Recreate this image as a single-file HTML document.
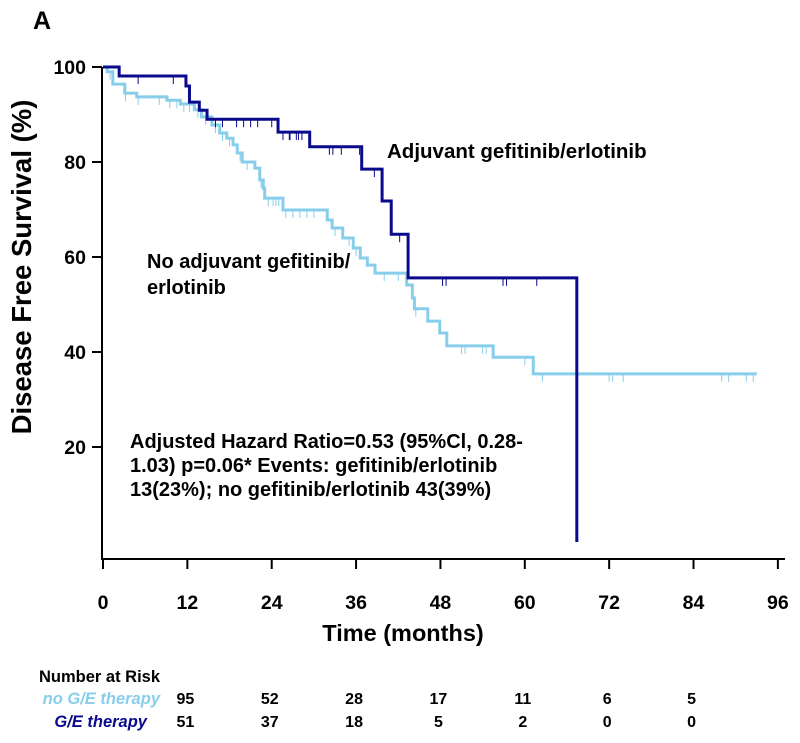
<!DOCTYPE html>
<html><head><meta charset="utf-8"><style>
body{margin:0;background:#fff;}
svg{display:block;font-family:"Liberation Sans",Arial,sans-serif;font-weight:bold;}
</style></head><body>
<svg id="chart" width="800" height="743" viewBox="0 0 800 743" xmlns="http://www.w3.org/2000/svg">
<text x="33" y="29" font-size="25">A</text>
<text transform="translate(31,267) rotate(-90)" text-anchor="middle" font-size="27.5">Disease Free Survival (%)</text>
<text x="403" y="641" text-anchor="middle" font-size="23.5">Time (months)</text>
<text x="387" y="158" font-size="20.5">Adjuvant gefitinib/erlotinib</text>
<text x="147" y="268" font-size="20">No adjuvant gefitinib/</text>
<text x="147" y="294" font-size="20">erlotinib</text>
<text font-size="20"><tspan x="130" y="448">Adjusted Hazard Ratio=0.53 (95%Cl, 0.28-</tspan><tspan x="130" y="472">1.03) p=0.06* Events: gefitinib/erlotinib</tspan><tspan x="130" y="496">13(23%); no gefitinib/erlotinib 43(39%)</tspan></text>
<text x="39" y="682" font-size="16.5">Number at Risk</text>
<text x="160" y="704" text-anchor="end" font-size="16.5" font-style="italic" fill="#87ceeb">no G/E therapy</text>
<text x="147" y="727" text-anchor="end" font-size="16.5" font-style="italic" fill="#0a0a8c">G/E therapy</text>
<g id="plot"></g>
</svg>
<script>
const xTicks=[0,12,24,36,48,60,72,84,96];
const yTicks=[20,40,60,80,100];
const darkTimes=[0,2.3,11.8,12.3,13.7,14.8,24.9,29.4,36.8,39.7,41,43.4,67.4];
const darkSurv=[100,98.1,96,92.6,90.9,89,86.3,83.2,78.5,71.8,64.8,55.6,0];
const darkCensor=[5,10,16,17,19,20,21,22,24,26.5,27.5,28.3,25.6,26.6,27.8,32.2,32.7,33.9,36.5,38.6,42.2,48.3,48.8,56.9,57.4,61.7];
const lightTimes=[0,0.6,1.4,3.1,4.8,9.1,11,13,14,15.5,16.6,17.6,18.5,19.1,19.8,21.6,22.3,22.8,23,25.6,31.9,32.6,34.1,35.6,36.6,37.6,38.7,43.2,44,44.3,46.2,47.9,48.9,55.5,61.2];
const lightSurv=[100,99,96.4,94.5,93.7,93,92.2,91,89.5,87.8,86.1,85,83.6,81.9,80,78.7,76.2,74.5,72.4,69.9,67.8,66.1,64,61.9,59.8,58.3,56.6,54.1,51.4,49.1,46.5,44,41.3,38.9,35.4];
const lightEnd=93;
const lightCensor=[1,3.2,5,8,9.5,10.5,11.5,12.3,13.5,14.6,16,17,18,19.5,20.5,22.5,23.5,24.2,24.6,25,26,27,28,29,30,33,34,35,36,40,42,44.5,51,51.5,54,54.5,60,62.5,72,72.5,74,88,89,91.5,92.5];
const riskNoGE=[95,52,28,17,11,6,5];
const riskGE=[51,37,18,5,2,0,0];
const riskTimes=[12,24,36,48,60,72,84];

const NS='http://www.w3.org/2000/svg';
const x=t=>103+t*7.03;
const y=p=>542-p*4.75;
const g=document.getElementById('plot');
function mk(tag,attrs,parent){const e=document.createElementNS(NS,tag);for(const k in attrs)e.setAttribute(k,attrs[k]);(parent||g).appendChild(e);return e;}

let ax=mk('path',{d:`M102,67 V559 H785`,stroke:'#000','stroke-width':2,fill:'none'});


yTicks.forEach(v=>{
  const t=mk('line',{x1:92,x2:102,y1:y(v),y2:y(v),stroke:'#000','stroke-width':2});
  
  
  const l=mk('text',{x:86,y:y(v)+7,'text-anchor':'end','font-size':19.5});
  
  
  l.textContent=v;
});
xTicks.forEach(v=>{
  const t=mk('line',{x1:x(v),x2:x(v),y1:559,y2:569,stroke:'#000','stroke-width':2});
  
  
  const l=mk('text',{x:x(v),y:609,'text-anchor':'middle','font-size':19.5});
  
  
  l.textContent=v;
});
function stepPath(ts,ss,end){
  let d=`M${x(ts[0])},${y(ss[0])}`;
  for(let i=1;i<ts.length;i++){d+=` H${x(ts[i])} V${y(ss[i])}`;}
  if(end!==undefined)d+=` H${x(end)}`;
  return d;
}
function survAt(ts,ss,t){let s=ss[0];for(let i=0;i<ts.length;i++){if(ts[i]<=t)s=ss[i];}return s;}
const lc='#87ceeb',dc='#0a0a8c';
let lp=mk('path',{d:stepPath(lightTimes,lightSurv,lightEnd),stroke:lc,'stroke-width':3,fill:'none'});


lightCensor.forEach(t=>{
  const s=survAt(lightTimes,lightSurv,t);
  const c=mk('line',{x1:x(t),x2:x(t),y1:y(s),y2:y(s)+8,stroke:lc,'stroke-width':1});
  
  
});
let dp=mk('path',{d:stepPath(darkTimes,darkSurv),stroke:dc,'stroke-width':3,fill:'none'});


darkCensor.forEach(t=>{
  const s=survAt(darkTimes,darkSurv,t);
  const c=mk('line',{x1:x(t),x2:x(t),y1:y(s),y2:y(s)+8,stroke:dc,'stroke-width':1});
  
  
});
riskTimes.forEach((t,i)=>{
  const a=mk('text',{x:x(t)-2,y:704,'text-anchor':'middle','font-size':16});
  
  
  a.textContent=riskNoGE[i];
  const b=mk('text',{x:x(t)-2,y:727,'text-anchor':'middle','font-size':16});
  
  
  b.textContent=riskGE[i];
});
</script>
</body></html>
